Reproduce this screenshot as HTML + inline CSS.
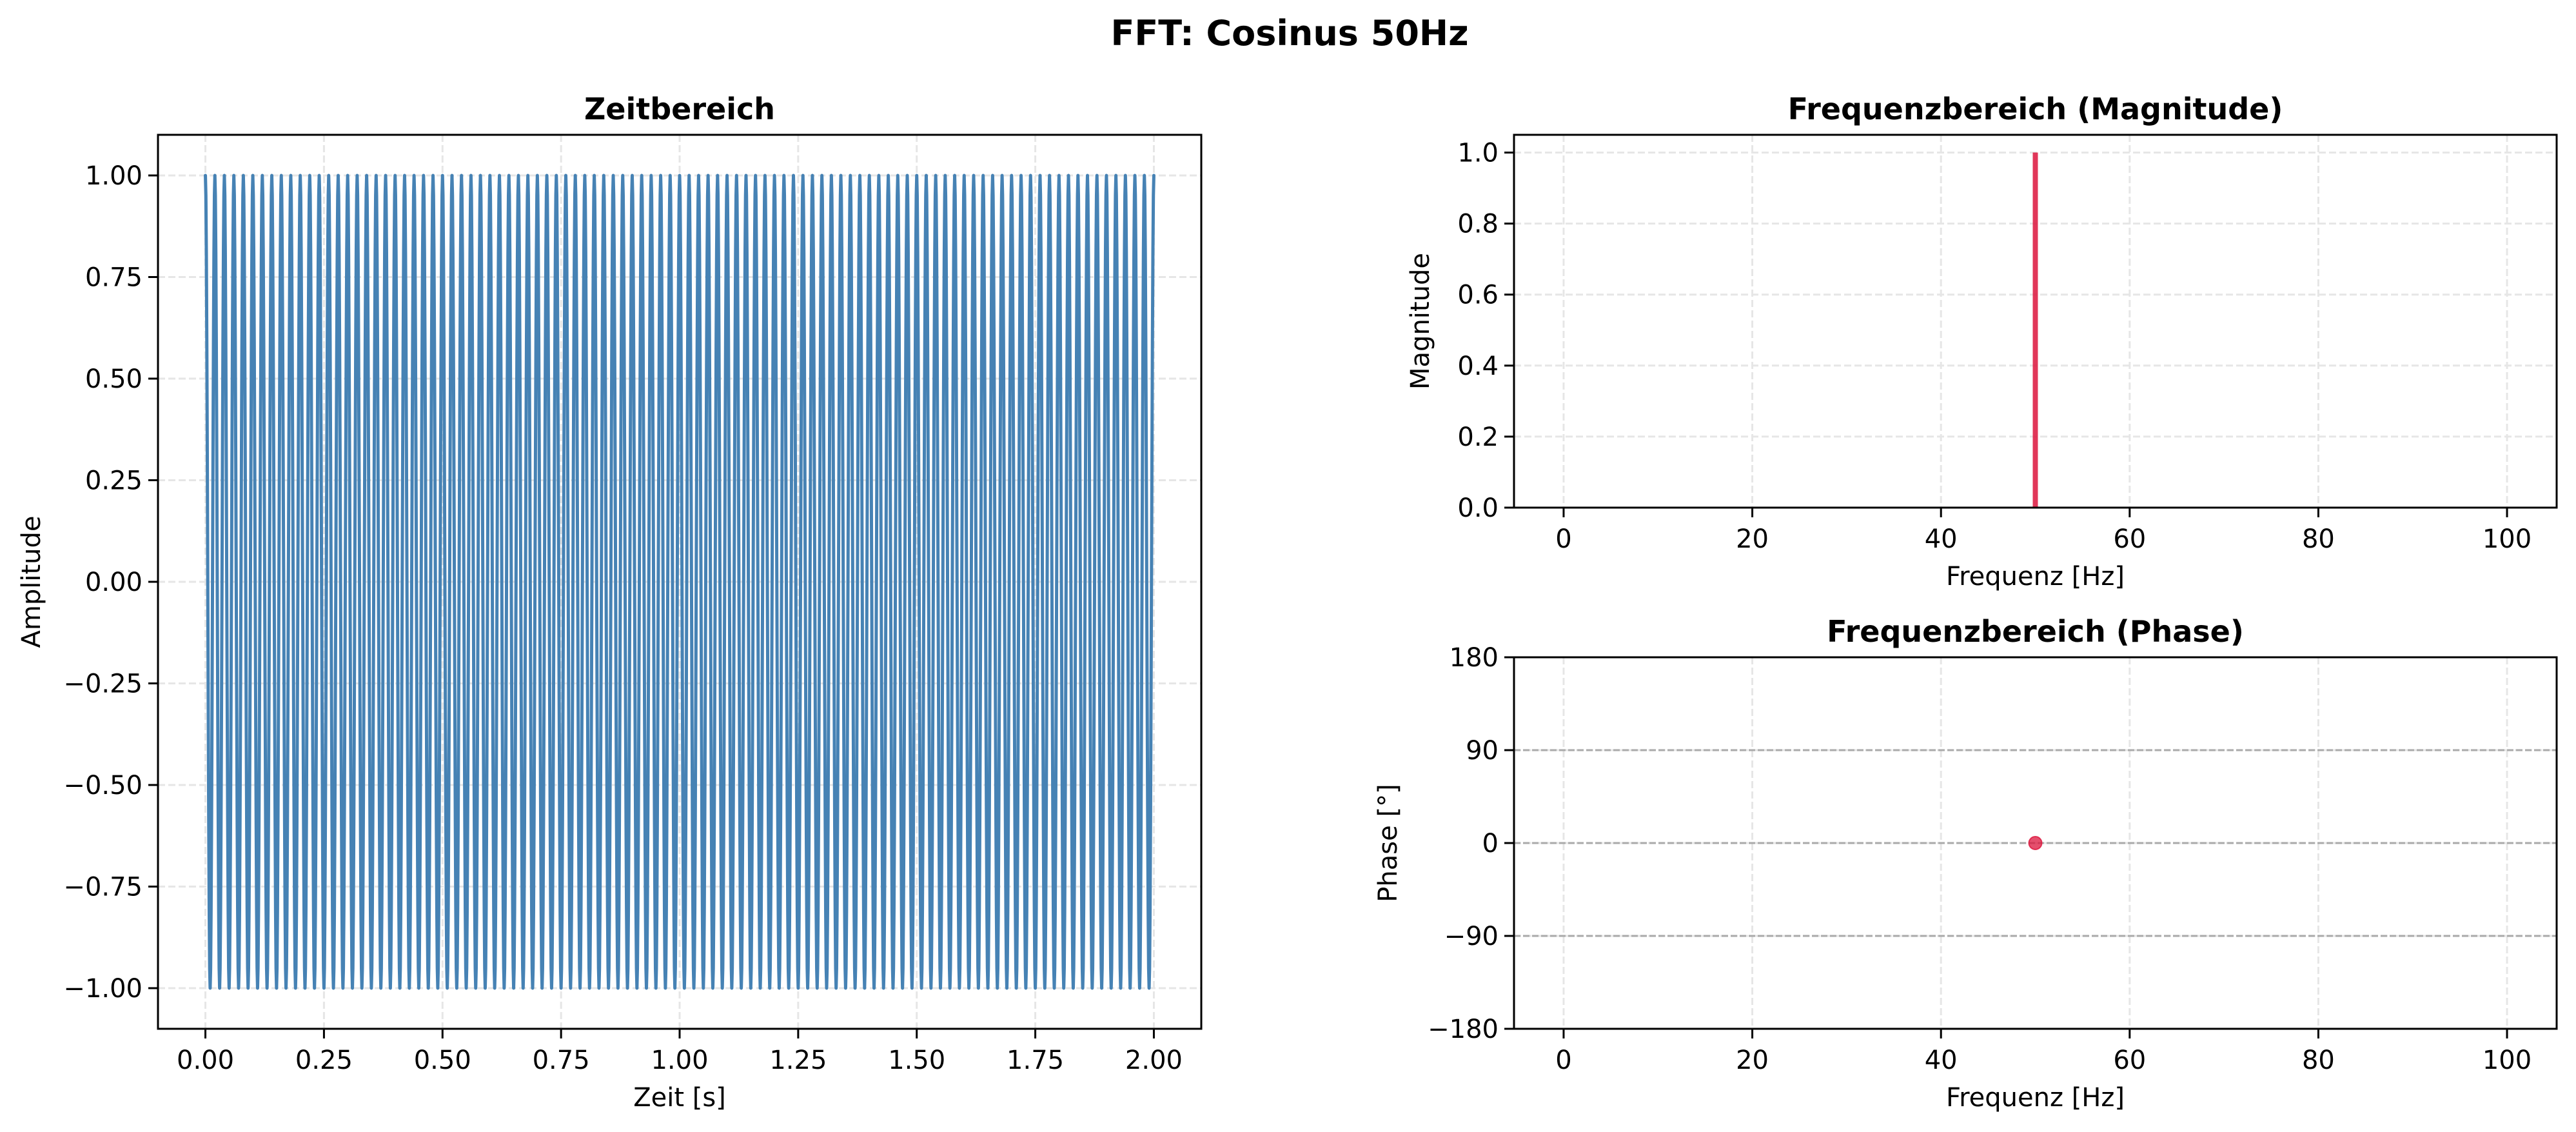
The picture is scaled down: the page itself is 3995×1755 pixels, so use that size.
<!DOCTYPE html>
<html><head><meta charset="utf-8">
<style>
html,body{margin:0;padding:0;background:#fff;}
svg{display:block;font-family:"DejaVu Sans","Liberation Sans",sans-serif;}
</style></head>
<body>
<svg id="fig" width="3995" height="1755" viewBox="0 0 3995 1755" xmlns="http://www.w3.org/2000/svg">
<rect width="3995" height="1755" fill="#fff"/>
<text x="2000" y="70" text-anchor="middle" font-size="54" font-weight="bold">FFT: Cosinus 50Hz</text>
</svg>
<script>
// ---- data ----
const signalFreqs = [50];          // Hz
const signalAmps = [1.0];
const signalDuration = [2.0];      // s
const sampleRate = [1000];         // Hz
const timeXTicks = [0, 0.25, 0.5, 0.75, 1.0, 1.25, 1.5, 1.75, 2.0];
const timeXTickLabels = ["0.00","0.25","0.50","0.75","1.00","1.25","1.50","1.75","2.00"];
const timeYTicks = [-1, -0.75, -0.5, -0.25, 0, 0.25, 0.5, 0.75, 1];
const timeYTickLabels = ["\u22121.00","\u22120.75","\u22120.50","\u22120.25","0.00","0.25","0.50","0.75","1.00"];
const specFreqs = [0, 49.5, 50, 50.5, 100];
const specMags = [0, 0, 1.0, 0, 0];
const peakFreqs = [50];
const peakPhases = [0];
const freqXTicks = [0, 20, 40, 60, 80, 100];
const magYTicks = [0, 0.2, 0.4, 0.6, 0.8, 1.0];
const magYTickLabels = ["0.0","0.2","0.4","0.6","0.8","1.0"];
const phaseYTicks = [-180, -90, 0, 90, 180];
const phaseYTickLabels = ["\u2212180","\u221290","0","90","180"];
const phaseRefLines = [-90, 0, 90];

const NS = "http://www.w3.org/2000/svg";
const svg = document.getElementById('fig');
function mk(tag, attrs, parent){
  const e = document.createElementNS(NS, tag);
  for (const k in attrs) e.setAttribute(k, attrs[k]);
  (parent||svg).appendChild(e); return e;
}
function scale(d0,d1,r0,r1){ return v => r0 + (v-d0)/(d1-d0)*(r1-r0); }

function axes(name, L, T, R, B, xdom, ydom, xt, xtl, yt, ytl, title, xlabel, ylabel, ylabX){
  const g = mk('g', {});
  
  
  const X = scale(xdom[0], xdom[1], L, R), Y = scale(ydom[0], ydom[1], B, T);
  xt.forEach((t,i)=>{
    const gl = mk('line',{x1:X(t),x2:X(t),y1:T,y2:B,stroke:'#e6e6e6','stroke-width':3,'stroke-dasharray':'11,5'},g);
    
    
    mk('line',{x1:X(t),x2:X(t),y1:B,y2:B+15,stroke:'#000','stroke-width':3},g);
    const tx = mk('text',{x:X(t),y:B+62,'text-anchor':'middle','font-size':40},g);
    tx.textContent = xtl[i];
    
    
  });
  yt.forEach((t,i)=>{
    const gl = mk('line',{x1:L,x2:R,y1:Y(t),y2:Y(t),stroke:'#e6e6e6','stroke-width':3,'stroke-dasharray':'11,5'},g);
    
    
    mk('line',{x1:L-15,x2:L,y1:Y(t),y2:Y(t),stroke:'#000','stroke-width':3},g);
    const tx = mk('text',{x:L-24,y:Y(t)+14,'text-anchor':'end','font-size':40},g);
    tx.textContent = ytl[i];
    
    
  });
  const tt = mk('text',{x:(L+R)/2,y:T-24,'text-anchor':'middle','font-size':46,'font-weight':'bold'},g);
  tt.textContent = title;
  
  
  const xl = mk('text',{x:(L+R)/2,y:B+120,'text-anchor':'middle','font-size':40},g);
  xl.textContent = xlabel;
  
  
  const yl = mk('text',{x:ylabX,y:(T+B)/2,'text-anchor':'middle','font-size':40,transform:`rotate(-90 ${ylabX} ${(T+B)/2})`},g);
  yl.textContent = ylabel;
  
  
  return {g, X, Y, L, T, R, B};
}
function frame(a){
  const f = mk('rect',{x:a.L,y:a.T,width:a.R-a.L,height:a.B-a.T,fill:'none',stroke:'#000','stroke-width':3},a.g);
  
  
}

// ---- time domain ----
const A = axes('time-domain-axes', 245, 209, 1863, 1595, [-0.1, 2.1], [-1.1, 1.1],
  timeXTicks, timeXTickLabels, timeYTicks, timeYTickLabels, 'Zeitbereich', 'Zeit [s]', 'Amplitude', 62);
{
  const n = Math.round(signalDuration[0]*sampleRate[0]);
  let d = '';
  for (let i=0;i<=n;i++){
    const t = i/sampleRate[0];
    let v = 0;
    signalFreqs.forEach((f,k)=>{ v += signalAmps[k]*Math.cos(2*Math.PI*f*t); });
    d += (i?'L':'M') + A.X(t).toFixed(2) + ',' + A.Y(v).toFixed(2);
  }
  const p = mk('path',{d, fill:'none', stroke:'#4682b4','stroke-width':5,'stroke-linejoin':'round','stroke-linecap':'round'},A.g);
  
  
}
frame(A);

// ---- magnitude ----
const M = axes('magnitude-axes', 2348, 209, 3965, 787, [-5.26, 105.26], [0, 1.05],
  freqXTicks, freqXTicks.map(String), magYTicks, magYTickLabels, 'Frequenzbereich (Magnitude)', 'Frequenz [Hz]', 'Magnitude', 2216);
{
  const base = mk('line',{x1:M.X(specFreqs[0]),x2:M.X(specFreqs[specFreqs.length-1]),y1:M.Y(0),y2:M.Y(0),stroke:'#8b1a3a','stroke-width':2,'stroke-dasharray':'6,3'},M.g);
  
  
  specFreqs.forEach((f,i)=>{
    if (specMags[i] <= 0) return;
    const s = mk('line',{x1:M.X(f),x2:M.X(f),y1:M.Y(0),y2:M.Y(specMags[i]),stroke:'#dc143c','stroke-opacity':0.85,'stroke-width':8},M.g);
    
    
  });
}
frame(M);

// ---- phase ----
const P = axes('phase-axes', 2348, 1019, 3965, 1595, [-5.26, 105.26], [-180, 180],
  freqXTicks, freqXTicks.map(String), phaseYTicks, phaseYTickLabels, 'Frequenzbereich (Phase)', 'Frequenz [Hz]', 'Phase [\u00b0]', 2166);
{
  phaseRefLines.forEach(v=>{
    const l = mk('line',{x1:P.L,x2:P.R,y1:P.Y(v),y2:P.Y(v),stroke:'#aaaaaa','stroke-width':3,'stroke-dasharray':'10,4'},P.g);
    
    
  });
  peakFreqs.forEach((f,i)=>{
    const c = mk('circle',{cx:P.X(f),cy:P.Y(peakPhases[i]),r:10,fill:'#dc143c','fill-opacity':0.75,stroke:'#dc143c','stroke-opacity':0.8,'stroke-width':2},P.g);
    
    
  });
}
frame(P);
</script>
</body></html>
